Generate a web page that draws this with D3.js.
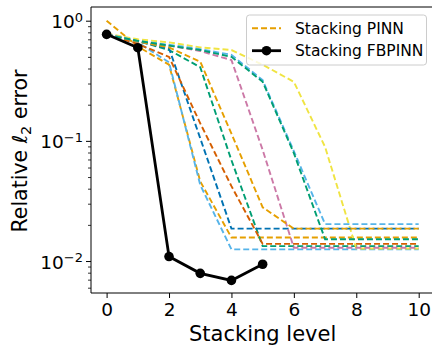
<!DOCTYPE html>
<html>
<head>
<meta charset="utf-8">
<script src="https://cdn.jsdelivr.net/npm/d3@7"></script>
<style>
  body { margin: 0; background: #fff; }
  svg { display: block; font-family: "DejaVu Sans", sans-serif; }
</style>
</head>
<body>
<div id="chart"></div>
<script>
// stacking levels on the x axis
const levels = [0, 1, 2, 3, 4, 5, 6, 7, 8, 9, 10];

// stacking PINN runs (relative L2 error per level)
const pinnRun1 = [1.0, 0.61, 0.43, 0.046, 0.0157, 0.0157, 0.0157, 0.0157, 0.0157, 0.0157, 0.0157];
const pinnRun2 = [0.76, 0.66, 0.45, 0.043, 0.0125, 0.0125, 0.0125, 0.0125, 0.0125, 0.0125, 0.0125];
const pinnRun3 = [0.76, 0.68, 0.57, 0.41, 0.069, 0.0133, 0.0133, 0.0133, 0.0133, 0.0133, 0.0133];
const pinnRun4 = [0.78, 0.70, 0.66, 0.60, 0.57, 0.43, 0.31, 0.089, 0.0127, 0.0127, 0.0127];
const pinnRun5 = [0.77, 0.67, 0.59, 0.105, 0.0186, 0.0186, 0.0186, 0.0186, 0.0186, 0.0186, 0.0186];
const pinnRun6 = [0.77, 0.64, 0.50, 0.14, 0.042, 0.0139, 0.0139, 0.0139, 0.0139, 0.0139, 0.0139];
const pinnRun7 = [0.77, 0.67, 0.62, 0.56, 0.47, 0.084, 0.0129, 0.0129, 0.0129, 0.0129, 0.0129];
const pinnRun8 = [0.77, 0.67, 0.60, 0.456, 0.115, 0.028, 0.0186, 0.0186, 0.0186, 0.0186, 0.0186];
const pinnRun9 = [0.77, 0.68, 0.63, 0.58, 0.52, 0.32, 0.082, 0.0203, 0.0203, 0.0203, 0.0203];
const pinnRun10 = [0.76, 0.68, 0.62, 0.57, 0.50, 0.31, 0.079, 0.0152, 0.0152, 0.0152, 0.0152];
const pinnRuns = [pinnRun1, pinnRun2, pinnRun3, pinnRun4, pinnRun5, pinnRun6, pinnRun7, pinnRun8, pinnRun9, pinnRun10];

// stacking FBPINN
const fbpinnLevels = [0, 1, 2, 3, 4, 5];
const fbpinnError = [0.77, 0.596, 0.0109, 0.0079, 0.0069, 0.0094];

const xTicks = [0, 2, 4, 6, 8, 10];
const yMajor = [1e-2, 1e-1, 1];
const yExponents = ["−2", "−1", "0"];

// colorblind cycle
const palette = ["#E69F00", "#56B4E9", "#009E73", "#F0E442", "#0072B2", "#D55E00", "#CC79A7"];

const width = 432, height = 346;
const svg = d3.select('#chart').append('svg')
    .attr('width', width)
    .attr('height', height);

const plotLeft = 91, plotRight = 434.3, plotTop = 7, plotBottom = 293;

const x = d3.scaleLinear().domain([-0.5, 10.5]).range([plotLeft, plotRight]);
const y = d3.scaleLog().domain([0.00542, 1.30]).range([plotBottom, plotTop]);

svg.append('clipPath').attr('id', 'plotclip')
  .append('rect').attr('x', plotLeft).attr('y', plotTop)
  .attr('width', plotRight - plotLeft).attr('height', plotBottom - plotTop);

const plot = svg.append('g').attr('clip-path', 'url(#plotclip)');

const line = d3.line()
    .x((d, i) => x(levels[i]))
    .y(d => y(d));

// dashed PINN curves
pinnRuns.forEach((run, i) => {
    plot.append('path')
        .datum(run)
        .attr('d', line)
        .attr('fill', 'none')
        .attr('stroke', palette[i % palette.length])
        .attr('stroke-width', 1.9)
        .attr('stroke-dasharray', '6,3');
});

// FBPINN curve with markers
const fbLine = d3.line()
    .x((d, i) => x(fbpinnLevels[i]))
    .y(d => y(d));

plot.append('path')
    .datum(fbpinnError)
    .attr('d', fbLine)
    .attr('fill', 'none')
    .attr('stroke', '#000')
    .attr('stroke-width', 2.8);

plot.selectAll('circle.fb')
    .data(fbpinnError)
    .enter().append('circle')
    .attr('class', 'fb')
    .attr('cx', (d, i) => x(fbpinnLevels[i]))
    .attr('cy', d => y(d))
    .attr('r', 4.8)
    .attr('fill', '#000');

// axes
const xAxis = svg.append('g')
    .attr('transform', `translate(0,${plotBottom})`)
    .call(d3.axisBottom(x).tickValues(xTicks).tickSize(5).tickPadding(5).tickFormat(d3.format('d')));
xAxis.select('.domain').remove();
xAxis.selectAll('text').attr('font-size', 18.5).attr('fill', '#000').attr('font-family', 'DejaVu Sans');
xAxis.selectAll('line').attr('stroke', '#000').attr('stroke-width', 1);

const minorTicks = [];
[0.001, 0.01, 0.1].forEach(b => {
    for (let k = 2; k <= 9; k++) {
        const v = b * k;
        if (v >= y.domain()[0] && v <= y.domain()[1]) minorTicks.push(v);
    }
});

const yMinorAxis = svg.append('g')
    .attr('transform', `translate(${plotLeft},0)`)
    .call(d3.axisLeft(y).tickValues(minorTicks).tickSize(3).tickFormat(''));
yMinorAxis.select('.domain').remove();
yMinorAxis.selectAll('line').attr('stroke', '#000').attr('stroke-width', 0.8);

const yAxis = svg.append('g')
    .attr('transform', `translate(${plotLeft},0)`)
    .call(d3.axisLeft(y).tickValues(yMajor).tickSize(5).tickFormat(''));
yAxis.select('.domain').remove();
yAxis.selectAll('line').attr('stroke', '#000').attr('stroke-width', 1);

yMajor.forEach((v, i) => {
    const t = svg.append('text')
        .attr('x', 83)
        .attr('y', y(v) + 7.5)
        .attr('text-anchor', 'end')
        .attr('font-size', 18.5)
        .attr('fill', '#000');
    t.append('tspan').text('10');
    t.append('tspan').attr('dy', -6.5).attr('font-size', 13).text(yExponents[i]);
});

// spines (right spine falls outside the window)
svg.append('path')
    .attr('d', `M${plotRight},${plotTop}H${plotLeft}V${plotBottom}H${plotRight}`)
    .attr('fill', 'none')
    .attr('stroke', '#000')
    .attr('stroke-width', 1);

// axis labels
svg.append('text')
    .attr('x', (plotLeft + plotRight) / 2)
    .attr('y', 341)
    .attr('text-anchor', 'middle')
    .attr('font-size', 21)
    .text('Stacking level');

const yl = svg.append('text')
    .attr('transform', 'translate(27,151) rotate(-90)')
    .attr('text-anchor', 'middle')
    .attr('font-size', 20.5);
yl.append('tspan').text('Relative ');
yl.append('tspan').attr('font-style', 'italic').text('ℓ');
yl.append('tspan').attr('font-size', 14.5).attr('dy', 4).text('2');
yl.append('tspan').attr('dy', -4).text(' error');

// legend
const legend = svg.append('g');
legend.append('rect')
    .attr('x', 246.5).attr('y', 15)
    .attr('width', 180).attr('height', 50)
    .attr('rx', 3)
    .attr('fill', 'rgba(255,255,255,0.8)')
    .attr('stroke', '#ccc')
    .attr('stroke-width', 1);

legend.append('line')
    .attr('x1', 252).attr('x2', 281)
    .attr('y1', 28.3).attr('y2', 28.3)
    .attr('stroke', palette[0])
    .attr('stroke-width', 1.9)
    .attr('stroke-dasharray', '6,3');
legend.append('text')
    .attr('x', 295).attr('y', 33.8)
    .attr('font-size', 15.5)
    .text('Stacking PINN');

legend.append('line')
    .attr('x1', 252).attr('x2', 281)
    .attr('y1', 50.7).attr('y2', 50.7)
    .attr('stroke', '#000')
    .attr('stroke-width', 2.8);
legend.append('circle')
    .attr('cx', 266.5).attr('cy', 50.7)
    .attr('r', 4.8)
    .attr('fill', '#000');
legend.append('text')
    .attr('x', 295).attr('y', 56.2)
    .attr('font-size', 15.5)
    .text('Stacking FBPINN');
</script>
</body>
</html>
